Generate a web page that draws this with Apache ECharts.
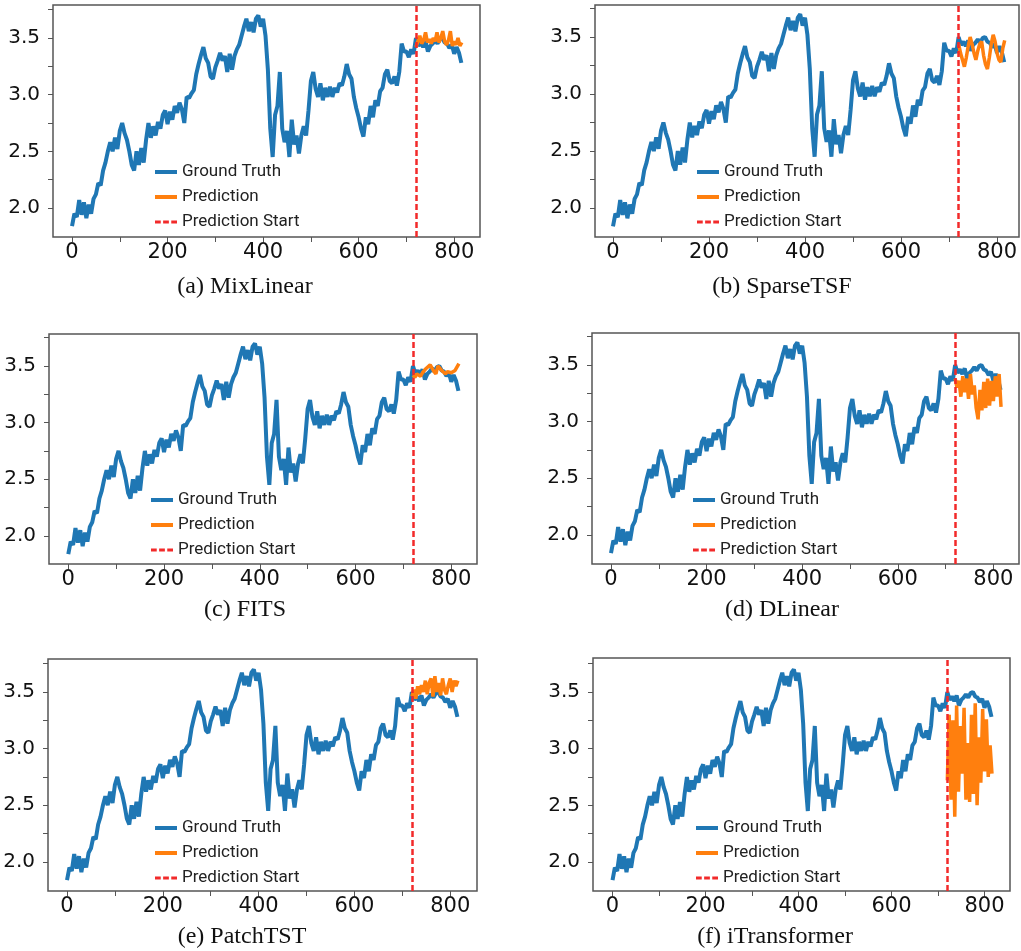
<!DOCTYPE html>
<html>
<head>
<meta charset="utf-8">
<title>Ground truth vs prediction</title>
<script src="https://cdn.jsdelivr.net/npm/echarts@6.0.0/dist/echarts.min.js"></script>
<style>
html, body { margin: 0; padding: 0; background: #fff; }
#chart { width: 1021px; height: 951px; }
</style>
</head>
<body>
<div id="chart"></div>
<script>
// ground truth, one value every 5 time steps (0..815)
const gtStep = 5
const groundTruth = [
    1.84, 1.95, 1.92, 2.07, 1.94, 2.05, 1.91, 2.03, 1.95, 2.08,
    2.12, 2.22, 2.20, 2.33, 2.40, 2.50, 2.58, 2.50, 2.62, 2.52,
    2.68, 2.75, 2.66, 2.60, 2.50, 2.38, 2.33, 2.50, 2.38, 2.53,
    2.40, 2.60, 2.75, 2.62, 2.72, 2.64, 2.76, 2.70, 2.82, 2.86,
    2.74, 2.85, 2.78, 2.90, 2.84, 2.93, 2.87, 2.75, 2.98, 2.97,
    3.01, 3.04, 3.18, 3.27, 3.35, 3.42, 3.32, 3.28, 3.16, 3.14,
    3.24, 3.30, 3.37, 3.30, 3.34, 3.20, 3.36, 3.22, 3.34, 3.40,
    3.44, 3.52, 3.60, 3.67, 3.56, 3.64, 3.55, 3.67, 3.70, 3.60,
    3.67, 3.52, 3.22, 2.70, 2.45, 2.82, 2.90, 3.20, 2.70, 2.58,
    2.68, 2.45, 2.78, 2.56, 2.64, 2.48, 2.64, 2.72, 2.64, 2.86,
    3.12, 3.20, 3.05, 2.98, 3.10, 2.95, 3.06, 2.98, 3.07, 2.98,
    3.06, 3.02, 3.10, 3.08, 3.16, 3.27, 3.18, 3.14, 2.98, 2.88,
    2.80, 2.70, 2.63, 2.80, 2.74, 2.90, 2.80, 2.95, 2.90, 3.03,
    3.06, 3.18, 3.22, 3.12, 3.10, 3.16, 3.08, 3.20, 3.45, 3.38,
    3.38, 3.33, 3.40, 3.36, 3.50, 3.43, 3.46, 3.42, 3.47, 3.38,
    3.43, 3.45, 3.48, 3.45, 3.49, 3.50, 3.46, 3.45, 3.41, 3.44,
    3.36, 3.42, 3.37, 3.28
]

// predictions start at step 720, one value every 4 steps
const predStart = 720
const predStep = 4
const predMixLinear = [3.42, 3.47, 3.52, 3.45, 3.48, 3.55, 3.46, 3.49, 3.45, 3.50, 3.47, 3.55, 3.46,
    3.50, 3.56, 3.47, 3.44, 3.48, 3.56, 3.43, 3.47, 3.44, 3.50, 3.43, 3.46]
const predSparseTSF = [3.44, 3.36, 3.30, 3.24, 3.32, 3.42, 3.50, 3.44, 3.36, 3.30, 3.38, 3.44, 3.46,
    3.34, 3.26, 3.22, 3.32, 3.44, 3.52, 3.46, 3.36, 3.30, 3.28, 3.40, 3.47]
const predFITS = [3.42, 3.40, 3.43, 3.42, 3.41, 3.44, 3.46, 3.48, 3.49, 3.51, 3.52, 3.45, 3.43,
    3.50, 3.49, 3.46, 3.45, 3.43, 3.45, 3.46, 3.44, 3.45, 3.46, 3.47, 3.52]
const predDLinear = [3.38, 3.30, 3.36, 3.22, 3.40, 3.26, 3.38, 3.20, 3.42, 3.24, 3.32, 3.12, 3.02,
    3.28, 3.10, 3.35, 3.12, 3.38, 3.14, 3.36, 3.18, 3.40, 3.22, 3.42, 3.13]
const predPatchTST = [3.46, 3.52, 3.44, 3.55, 3.48, 3.56, 3.50, 3.60, 3.48, 3.58, 3.62, 3.46, 3.64,
    3.50, 3.58, 3.47, 3.62, 3.52, 3.48, 3.56, 3.62, 3.50, 3.60, 3.55, 3.60]
const predITransformer = [2.72, 3.30, 2.55, 3.25, 2.40, 3.38, 2.62, 3.20, 2.78, 3.36, 2.55, 3.05, 2.53,
    3.30, 2.60, 3.40, 2.50, 3.10, 2.70, 3.35, 2.80, 3.26, 2.75, 3.03, 2.78]

const predictions = [predMixLinear, predSparseTSF, predFITS, predDLinear, predPatchTST, predITransformer]
const captions = ['(a) MixLinear', '(b) SparseTSF', '(c) FITS', '(d) DLinear', '(e) PatchTST', '(f) iTransformer']

const xTicks = [0, 100, 200, 300, 400, 500, 600, 700, 800]
const xLabels = [0, 200, 400, 600, 800]
const yTicks = [2.0, 2.25, 2.5, 2.75, 3.0, 3.25, 3.5, 3.75]
const yLabels = [2.0, 2.5, 3.0, 3.5]

// 每个子图的位置和坐标范围
const panels = [
    { left: 53, top: 5, width: 427, height: 232, xMin: -39.8, xMax: 854, yMin: 1.744, yMax: 3.791, lgLeft: 155, lgTop: 163, capX: 245, capY: 287 },
    { left: 595, top: 5, width: 424, height: 232, xMin: -37.5, xMax: 845.8, yMin: 1.746, yMax: 3.781, lgLeft: 697, lgTop: 163, capX: 782, capY: 287 },
    { left: 49, top: 334, width: 428, height: 230, xMin: -40.3, xMax: 853.8, yMin: 1.752, yMax: 3.782, lgLeft: 151, lgTop: 491, capX: 245, capY: 610 },
    { left: 592, top: 333, width: 427, height: 231, xMin: -39.7, xMax: 853.6, yMin: 1.743, yMax: 3.782, lgLeft: 693, lgTop: 491, capX: 782, capY: 610 },
    { left: 48, top: 659, width: 429, height: 232, xMin: -39.7, xMax: 855.9, yMin: 1.743, yMax: 3.791, lgLeft: 155, lgTop: 819, capX: 242, capY: 937 },
    { left: 593, top: 658, width: 417, height: 233, xMin: -42.0, xMax: 854.8, yMin: 1.744, yMax: 3.800, lgLeft: 696, lgTop: 819, capX: 775, capY: 937 },
]

const blue = '#1f77b4'
const orange = '#ff7f0e'
const red = '#f22a2a'
const tickColor = '#555'
const dashIcon = 'path://M0,0h6v3h-6zM8.5,0h6v3h-6zM17,0h6v3h-6z'

const chart = echarts.init(document.getElementById('chart'))

const gtData = groundTruth.map((v, i) => [i * gtStep, v])

const grid = [], xAxis = [], yAxis = [], series = [], legend = [], graphic = []

panels.forEach((p, i) => {
    grid.push({
        left: p.left, top: p.top, width: p.width, height: p.height,
        show: true, borderColor: '#555', borderWidth: 1.5, backgroundColor: 'transparent'
    })
    xAxis.push({
        type: 'value', gridIndex: i, min: p.xMin, max: p.xMax,
        axisLine: { show: false, onZero: false },
        splitLine: { show: false },
        axisTick: { show: true, customValues: xTicks, length: 5, lineStyle: { color: tickColor } },
        axisLabel: {
            customValues: xLabels, margin: 5,
            color: '#111', fontSize: 21, fontFamily: 'DejaVu Sans'
        }
    })
    yAxis.push({
        type: 'value', gridIndex: i, min: p.yMin, max: p.yMax,
        axisLine: { show: false, onZero: false },
        splitLine: { show: false },
        axisTick: { show: true, customValues: yTicks, length: 5, lineStyle: { color: tickColor } },
        axisLabel: {
            customValues: yLabels, margin: 13,
            color: '#111', fontSize: 20, fontFamily: 'DejaVu Sans',
            formatter: v => v.toFixed(1)
        }
    })
    series.push({
        name: 'Ground Truth', type: 'line', xAxisIndex: i, yAxisIndex: i,
        data: gtData, symbol: 'none', z: 2,
        lineStyle: { color: blue, width: 4 }, itemStyle: { color: blue }
    })
    series.push({
        name: 'Prediction', type: 'line', xAxisIndex: i, yAxisIndex: i,
        data: predictions[i].map((v, k) => [predStart + k * predStep, v]),
        symbol: 'none', z: 3,
        lineStyle: { color: orange, width: 3.5 }, itemStyle: { color: orange }
    })
    series.push({
        name: 'Prediction Start', type: 'line', xAxisIndex: i, yAxisIndex: i,
        data: [], symbol: 'none', z: 4,
        lineStyle: { color: red, width: 2.5, type: [5, 3] }, itemStyle: { color: red },
        markLine: {
            symbol: 'none', silent: true, animation: false,
            label: { show: false },
            lineStyle: { color: red, width: 2.5, type: [6, 3] },
            data: [{ xAxis: predStart }]
        }
    })
    legend.push({
        left: p.lgLeft, top: p.lgTop, orient: 'vertical', padding: 0,
        itemWidth: 22, itemHeight: 4, itemGap: 7, selectedMode: false,
        textStyle: { fontFamily: 'Roboto', fontSize: 17, color: '#222', lineHeight: 18 },
        data: [
            { name: 'Ground Truth', icon: 'rect' },
            { name: 'Prediction', icon: 'rect' },
            { name: 'Prediction Start', icon: dashIcon }
        ]
    })
    graphic.push({
        type: 'text', x: p.capX, y: p.capY,
        style: {
            text: captions[i], fill: '#111',
            font: '24px "Liberation Serif"', align: 'center', verticalAlign: 'middle'
        }
    })
})

chart.setOption({
    animation: false,
    backgroundColor: '#fff',
    grid, xAxis, yAxis, series, legend, graphic
})
</script>
</body>
</html>
